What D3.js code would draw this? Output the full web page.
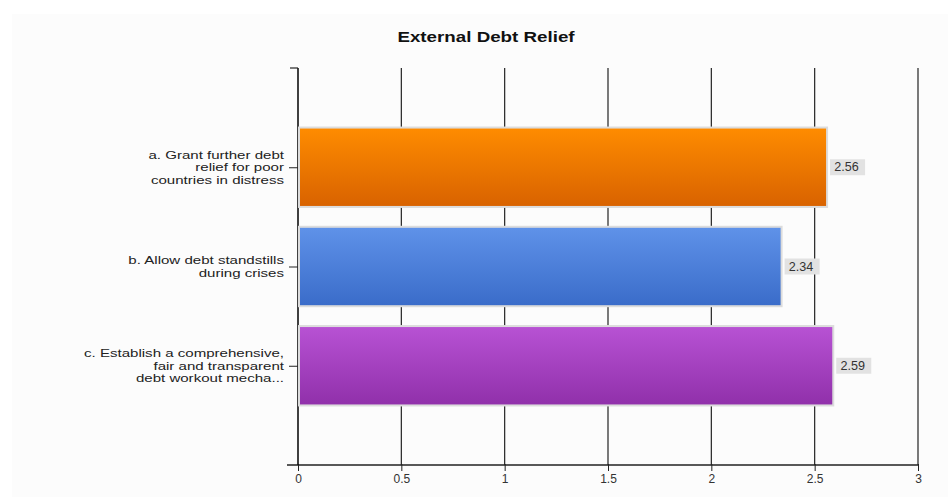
<!DOCTYPE html>
<html><head><meta charset="utf-8">
<script src="https://cdn.jsdelivr.net/npm/d3@7"></script>
<style>body{margin:0;background:#fff}svg{display:block}text{font-family:"Liberation Sans",Arial,sans-serif}</style>
</head><body><svg id="c" width="948" height="497"></svg>
<script>
const title = "External Debt Relief";
const categories = ["a", "b", "c"];
const labels = [
  ["a. Grant further debt", "relief for poor", "countries in distress"],
  ["b. Allow debt standstills", "during crises"],
  ["c. Establish a comprehensive,", "fair and transparent", "debt workout mecha..."]
];
const values = [2.56, 2.34, 2.59];
const tickValues = [0, 0.5, 1, 1.5, 2, 2.5, 3];
const colorsTop = ["#ff8c00", "#5f92e9", "#b852d4"];
const colorsBottom = ["#d86200", "#3a6cc9", "#9030aa"];

(function(){
const svg = d3.select("#c");
svg.append("rect").attr("x",12).attr("y",14).attr("width",936).attr("height",483).attr("fill","#fcfcfc");
const defs = svg.append("defs");
categories.forEach((c,i)=>{
  const g = defs.append("linearGradient").attr("id","g"+i).attr("x1",0).attr("y1",0).attr("x2",0).attr("y2",1);
  g.append("stop").attr("offset","0%").attr("stop-color",colorsTop[i]);
  g.append("stop").attr("offset","100%").attr("stop-color",colorsBottom[i]);
});

const pLeft=298, pRight=918, pTop=68, pBottom=465;
const x = d3.scaleLinear().domain([0,3]).range([pLeft,pRight]);
const y = d3.scalePoint().domain(categories).range([pTop,pBottom]).padding(1);
const step = y.step();
const barH = step*0.8;

svg.append("g").attr("transform","translate(486,42) scale(1.34,1)")
  .append("text").attr("text-anchor","middle")
  .attr("font-weight","bold").attr("font-size",14).attr("fill","#111").text(title);

// gridlines
svg.append("g").selectAll("line").data(tickValues.slice(1)).join("line")
  .attr("x1",d=>x(d)).attr("x2",d=>x(d)).attr("y1",pTop).attr("y2",pBottom)
  .attr("stroke","#222").attr("stroke-width",1.2);

// x axis
const xa = svg.append("g").attr("transform",`translate(0,${pBottom})`)
  .call(d3.axisBottom(x).tickValues(tickValues).tickFormat(d3.format("")).tickSize(6).tickPadding(3));
xa.select(".domain").remove();
xa.selectAll(".tick line").attr("stroke","#222").attr("y1",-1);
xa.selectAll("text").attr("font-size",12).attr("fill","#333").attr("font-family","Liberation Sans, Arial, sans-serif");
svg.append("line").attr("x1",287).attr("x2",pRight).attr("y1",pBottom).attr("y2",pBottom).attr("stroke","#222").attr("stroke-width",1.4);

// y axis
svg.append("line").attr("x1",pLeft).attr("x2",pLeft).attr("y1",pTop).attr("y2",pBottom).attr("stroke","#111").attr("stroke-width",1.6);
svg.append("line").attr("x1",290).attr("x2",pLeft).attr("y1",pTop).attr("y2",pTop).attr("stroke","#222").attr("stroke-width",1.2);
const ya = svg.append("g").attr("transform",`translate(${pLeft},0)`)
  .call(d3.axisLeft(y).tickSize(9).tickFormat(""));
ya.select(".domain").remove();
ya.selectAll(".tick line").attr("stroke","#222");

// category labels
categories.forEach((c,i)=>{
  const ls = labels[i];
  const lh = 12.3;
  const y0 = -(ls.length-1)*lh/2;
  const t = svg.append("g").attr("transform",`translate(284,${y(c)}) scale(1.31,1)`)
    .append("text").attr("text-anchor","end").attr("font-size",11.5).attr("fill","#222");
  ls.forEach((l,j)=>{
    t.append("tspan").attr("x",0).attr("y",y0+j*lh).attr("dy","0.35em").text(l);
  });
});

// bars
svg.append("g").selectAll("rect").data(values).join("rect")
  .attr("x",x(0)+1).attr("y",(d,i)=>y(categories[i])-barH/2)
  .attr("width",d=>x(d)-x(0)-1).attr("height",barH)
  .attr("fill",(d,i)=>`url(#g${i})`).attr("stroke","#dcdcdc").attr("stroke-width",2);

// value labels
const vl = svg.append("g").selectAll("g").data(values).join("g")
  .attr("transform",(d,i)=>`translate(${x(d)+3},${y(categories[i])})`);
vl.append("rect").attr("x",0).attr("y",-8).attr("width",35).attr("height",16).attr("fill","#e2e2e2");
vl.append("text").attr("x",4).attr("y",0).attr("dy","0.35em").attr("font-size",12).attr("fill","#333")
  .attr("transform","scale(1.05,1)").text(d=>d.toFixed(2));
})();
</script></body></html>
